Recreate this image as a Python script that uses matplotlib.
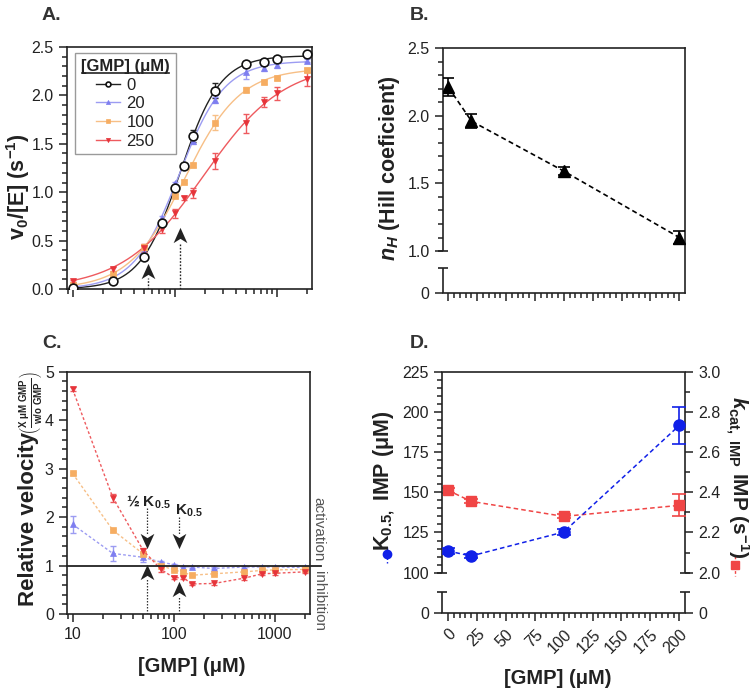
import numpy as np
import matplotlib
matplotlib.use('Agg')
import matplotlib.pyplot as plt
from matplotlib.path import Path
from matplotlib.lines import Line2D
from matplotlib.ticker import FixedLocator, NullFormatter, LogLocator

plt.rcParams['font.family'] = ['Liberation Sans', 'DejaVu Sans']
plt.rcParams['mathtext.fontset'] = 'custom'
plt.rcParams['mathtext.rm'] = 'Liberation Sans:bold'
plt.rcParams['mathtext.bf'] = 'Liberation Sans:bold'
plt.rcParams['mathtext.it'] = 'Liberation Sans:bold:italic'

# ---------------- data ----------------
imp = [10, 25, 50, 75, 100, 125, 150, 250, 500, 750, 1000, 2000]
gmp_labels = ['0', '20', '100', '250']

v_gmp0 = [0.01, 0.08, 0.33, 0.68, 1.04, 1.27, 1.58, 2.05, 2.32, 2.34, 2.38, 2.43]
v_gmp0_err = [0.01, 0.01, 0.02, 0.02, 0.02, 0.02, 0.06, 0.08, 0.02, 0.02, 0.02, 0.02]
v_gmp20 = [0.02, 0.11, 0.38, 0.73, 1.09, 1.27, 1.53, 1.95, 2.24, 2.28, 2.31, 2.36]
v_gmp20_err = [0.01, 0.01, 0.02, 0.02, 0.02, 0.02, 0.03, 0.03, 0.07, 0.03, 0.03, 0.02]
v_gmp100 = [0.04, 0.15, 0.43, 0.69, 0.96, 1.11, 1.28, 1.72, 2.06, 2.14, 2.18, 2.26]
v_gmp100_err = [0.01, 0.01, 0.03, 0.02, 0.02, 0.02, 0.02, 0.08, 0.03, 0.02, 0.02, 0.02]
v_gmp250 = [0.08, 0.21, 0.42, 0.62, 0.78, 0.94, 0.99, 1.32, 1.71, 1.93, 2.02, 2.17]
v_gmp250_err = [0.01, 0.02, 0.04, 0.04, 0.05, 0.02, 0.05, 0.08, 0.10, 0.05, 0.07, 0.07]

rel_gmp20 = [1.85, 1.25, 1.17, 1.07, 1.02, 0.98, 0.97, 0.94, 0.97, 0.97, 0.97, 0.96]
rel_gmp20_err = [0.17, 0.15, 0.10, 0.03, 0.02, 0.02, 0.02, 0.02, 0.02, 0.02, 0.02, 0.02]
rel_gmp100 = [2.90, 1.73, 1.24, 1.00, 0.91, 0.86, 0.80, 0.83, 0.87, 0.90, 0.91, 0.92]
rel_gmp100_err = [0.03, 0.03, 0.05, 0.02, 0.02, 0.02, 0.02, 0.02, 0.02, 0.02, 0.02, 0.02]
rel_gmp250 = [4.64, 2.40, 1.31, 0.92, 0.75, 0.75, 0.62, 0.63, 0.74, 0.83, 0.84, 0.87]
rel_gmp250_err = [0.04, 0.08, 0.06, 0.05, 0.03, 0.03, 0.03, 0.03, 0.03, 0.03, 0.03, 0.03]

gmp_conc = [0, 20, 100, 200]
n_hill = [2.21, 1.96, 1.59, 1.10]
n_hill_err = [0.065, 0.05, 0.03, 0.05]
k05 = [113.5, 110.4, 125.3, 191.6]
k05_err = [2.0, 1.5, 2.0, 11.4]
kcat = [2.41, 2.355, 2.28, 2.335]
kcat_err = [0.012, 0.01, 0.01, 0.055]

# ---------------- style ----------------
TXT = '#222222'
col_line = ['#222222', '#9c9cf2', '#f7bf86', '#ee5a5e']
col_mark = ['#111111', '#7e7ef0', '#f6ad62', '#e6343a']
markers = ['o', '^', 's', 'v']
YL = 15.5   # y-label size
XL = 14.5   # x-label size

fig = plt.figure(figsize=(7.5, 6.91), dpi=100)


def px_axes(l, t, r, b):
    return fig.add_axes([l / 750, 1 - b / 691, (r - l) / 750, (b - t) / 691])


def px_text(x, y, s, rot=0, **kw):
    return fig.text(x / 750, 1 - y / 691, s, rotation=rot, ha='center', va='center',
                    rotation_mode='anchor', **kw)


def style(ax):
    for s in ax.spines.values():
        s.set_linewidth(1.2)
        s.set_color(TXT)
    ax.tick_params(which='both', direction='out', color=TXT, width=1.1,
                   labelsize=11.5, labelcolor=TXT)
    ax.tick_params(which='major', length=6)
    ax.tick_params(which='minor', length=3.5)


def broken_scale(b, r):
    def fwd(y):
        y = np.asarray(y, dtype=float)
        return np.where(y >= b, y, b - (b - y) * r)

    def inv(s):
        s = np.asarray(s, dtype=float)
        return np.where(s >= b, s, b - (b - s) / r)
    return fwd, inv


def draw_break(ax, xa, brk, stub, top, cap=0.021):
    tr = ax.get_yaxis_transform()
    kw = dict(transform=tr, clip_on=False, color=TXT, lw=1.2, solid_capstyle='butt')
    ax.plot([xa, xa], [brk, top], **kw)
    ax.plot([xa, xa], [0, stub], **kw)
    ax.plot([xa - cap, xa + cap], [brk, brk], **kw)
    ax.plot([xa - cap, xa + cap], [stub, stub], **kw)


def stealth(direction):
    s = 1 if direction == 'up' else -1
    verts = [(0, 0.5 * s), (0.45, -0.5 * s), (0, -0.22 * s), (-0.45, -0.5 * s), (0, 0.5 * s)]
    codes = [Path.MOVETO, Path.LINETO, Path.LINETO, Path.LINETO, Path.CLOSEPOLY]
    return Path(verts, codes)


lab_kw = dict(fontweight='bold', color=TXT)

# ---------------- Panel A ----------------
axA = px_axes(67, 47, 312, 289)
style(axA)
axA.set_xscale('log')
axA.set_xlim(8.8, 2230)
axA.set_ylim(0, 2.5)
axA.set_yticks([0, 0.5, 1.0, 1.5, 2.0, 2.5])
axA.set_yticklabels(['0.0', '0.5', '1.0', '1.5', '2.0', '2.5'])
axA.yaxis.set_minor_locator(FixedLocator([v / 10 for v in range(1, 25) if v % 5 != 0]))
axA.set_xticks([10, 100, 1000])
axA.xaxis.set_minor_locator(LogLocator(base=10, subs=np.arange(2, 10)))
axA.xaxis.set_major_formatter(NullFormatter())
axA.xaxis.set_minor_formatter(NullFormatter())

vals = [v_gmp0, v_gmp20, v_gmp100, v_gmp250]
errs = [v_gmp0_err, v_gmp20_err, v_gmp100_err, v_gmp250_err]
xfit = np.logspace(1, np.log10(2000), 300)
handles = []
for i in range(4):
    n = n_hill[i]
    yfit = kcat[i] * xfit ** n / (k05[i] ** n + xfit ** n)
    axA.plot(xfit, yfit, color=col_line[i], lw=1.0, zorder=2)
    if i == 0:
        mk = dict(marker='o', ms=6.3, mfc='white', mec='#111111', mew=1.2)
    else:
        mk = dict(marker=markers[i], ms=4.5, mfc=col_mark[i], mec=col_mark[i], mew=0.5)
    axA.errorbar(imp, vals[i], yerr=errs[i], fmt='none', ecolor=col_line[i],
                 elinewidth=1.0, capsize=2.5, capthick=1.0, zorder=3)
    axA.plot(imp, vals[i], ls='none', zorder=4 + (1 if i == 0 else 0), **mk)
    hmk = dict(mk)
    hmk['ms'] = 3.5 if i == 0 else 3
    handles.append(Line2D([], [], color=col_line[i], lw=1.0, **hmk))

leg = axA.legend(handles, gmp_labels, title='[GMP] (μM)', loc='upper left',
                 bbox_to_anchor=(0.033, 0.975), borderaxespad=0, fontsize=12,
                 title_fontproperties={'weight': 'bold', 'size': 12},
                 handlelength=1.4, handletextpad=0.4, labelspacing=0.22,
                 frameon=True, fancybox=False, edgecolor='#9a9a9a', framealpha=1,
                 borderpad=0.35)
leg.get_frame().set_linewidth(1.0)
for t in leg.get_texts():
    t.set_color(TXT)
leg.get_title().set_color(TXT)

# arrows in A
arrow_x = [55, 112]
arrow_tip = [0.27, 0.65]
arrow_base = [0.11, 0.47]
for xa, yt, yb in zip(arrow_x, arrow_tip, arrow_base):
    axA.plot([xa, xa], [0, yb], ls=(0, (1.2, 1.2)), color=TXT, lw=1.0, zorder=6)
    axA.plot([xa], [(yt + yb) / 2], marker=stealth('up'), ms=11, color=TXT, mew=0, zorder=7)

px_text(18.5, 187, r'v$_0$/[E] (s$^{-1}$)', rot=90, fontsize=15.5, **lab_kw)

# ---------------- Panel B ----------------
axB = px_axes(442.7, 48, 685, 293)
style(axB)
fB, iB = broken_scale(1.0, 0.31)
axB.set_yscale('function', functions=(fB, iB))
axB.set_ylim(0, 2.5)
axB.set_xlim(-4.9, 204.9)
axB.set_yticks([0, 1.0, 1.5, 2.0, 2.5])
axB.set_yticklabels(['0', '1.0', '1.5', '2.0', '2.5'])
axB.yaxis.set_minor_locator(FixedLocator([v / 10 for v in range(11, 25) if v % 5 != 0]))
axB.set_xticks(range(0, 201, 25))
axB.xaxis.set_minor_locator(FixedLocator([v for v in range(0, 201, 5) if v % 25 != 0]))
axB.xaxis.set_major_formatter(NullFormatter())
axB.spines['left'].set_visible(False)
draw_break(axB, 0, 1.0, 0.6, 2.5)
axB.errorbar(gmp_conc, n_hill, yerr=n_hill_err, fmt='^', color='black', ms=8,
             capsize=4, elinewidth=1.2, capthick=1.2, ls=(0, (3, 2)), lw=1.2, zorder=4)
px_text(390, 168, r'$n_H$ (Hill coeficient)', rot=90, fontsize=YL, **lab_kw)

# ---------------- Panel C ----------------
axC = px_axes(67, 371.7, 310, 614)
style(axC)
axC.set_xscale('log')
axC.set_xlim(8.8, 2230)
axC.set_ylim(0, 5)
axC.set_yticks([0, 1, 2, 3, 4, 5])
axC.yaxis.set_minor_locator(FixedLocator([v / 5 for v in range(1, 25) if v % 5 != 0]))
axC.set_xticks([10, 100, 1000])
axC.set_xticklabels(['10', '100', '1000'])
axC.xaxis.set_minor_locator(LogLocator(base=10, subs=np.arange(2, 10)))
axC.xaxis.set_minor_formatter(NullFormatter())

rels = [rel_gmp20, rel_gmp100, rel_gmp250]
rel_errs = [rel_gmp20_err, rel_gmp100_err, rel_gmp250_err]
for j in range(3):
    i = j + 1
    axC.errorbar(imp, rels[j], yerr=rel_errs[j], fmt='none', ecolor=col_line[i],
                 elinewidth=1.0, capsize=2.5, capthick=1.0, zorder=3)
    axC.plot(imp, rels[j], ls=(0, (2, 1.6)), lw=1.0, color=col_line[i],
             marker=markers[i], ms=4.5, mfc=col_mark[i], mec=col_mark[i], mew=0.5, zorder=4)

axC.plot([0, 1.045], [1, 1], transform=axC.get_yaxis_transform(), clip_on=False,
         color=TXT, lw=1.3, zorder=5)
tblend = axC.get_yaxis_transform()
axC.text(1.035, 1.76, 'activation', transform=tblend, rotation=-90, ha='center',
         va='center', fontsize=11, color='#555555')
axC.text(1.035, 0.27, 'inhibition', transform=tblend, rotation=-90, ha='center',
         va='center', fontsize=11, color='#555555')

# annotations in C
k_half_x, k_x = 55, 112
axC.text(33.5, 2.31, '½ K$_{0.5}$', fontsize=11, fontweight='bold', color=TXT, va='center')
axC.text(104, 2.12, 'K$_{0.5}$', fontsize=11, fontweight='bold', color=TXT, va='center')
dot = dict(ls=(0, (1.2, 1.2)), color='#333333', lw=0.9, zorder=6)
axC.plot([k_half_x, k_half_x], [2.19, 1.62], **dot)
axC.plot([k_x, k_x], [2.0, 1.62], **dot)
axC.plot([k_half_x, k_half_x], [0, 0.72], **dot)
axC.plot([k_x, k_x], [0, 0.38], **dot)
for xa, yc in [(k_half_x, 1.51), (k_x, 1.51)]:
    axC.plot([xa], [yc], marker=stealth('down'), ms=11, color=TXT, mew=0, zorder=7)
for xa, yc in [(k_half_x, 0.86), (k_x, 0.52)]:
    axC.plot([xa], [yc], marker=stealth('up'), ms=11, color=TXT, mew=0, zorder=7)

px_text(29, 518.5, 'Relative velocity', rot=90, fontsize=YL + 0.5, **lab_kw)
px_text(30, 403.5, r'$\left(\frac{\mathrm{X\ μM\ GMP}}{\mathrm{w/o\ GMP}}\right)$', rot=90,
        fontsize=10, color=TXT)
px_text(192, 666.5, '[GMP] (μM)', fontsize=XL, **lab_kw)

# ---------------- Panel D ----------------
axD = px_axes(442.3, 371.7, 685, 613.3)
style(axD)
fD, iD = broken_scale(100.0, 0.2525)
axD.set_yscale('function', functions=(fD, iD))
axD.set_ylim(0, 225)
axD.set_xlim(-4.9, 204.9)
axD.set_yticks([0, 100, 125, 150, 175, 200, 225])
axD.yaxis.set_minor_locator(FixedLocator([v for v in range(105, 225, 5) if v % 25 != 0]))
axD.set_xticks(range(0, 201, 25))
axD.set_xticklabels([str(v) for v in range(0, 201, 25)], rotation=45, ha='right',
                    rotation_mode='anchor')
axD.xaxis.set_minor_locator(FixedLocator([v for v in range(0, 201, 5) if v % 25 != 0]))
axD.spines['left'].set_visible(False)
axD.spines['right'].set_visible(False)
draw_break(axD, 0, 100, 53.3, 225)

axD2 = axD.twinx()
style(axD2)
fD2, iD2 = broken_scale(2.0, 0.101)
axD2.set_yscale('function', functions=(fD2, iD2))
axD2.set_ylim(0, 3.0)
axD2.set_yticks([0, 2.0, 2.2, 2.4, 2.6, 2.8, 3.0])
axD2.set_yticklabels(['0', '2.0', '2.2', '2.4', '2.6', '2.8', '3.0'])
axD2.yaxis.set_minor_locator(FixedLocator([2.1, 2.3, 2.5, 2.7, 2.9]))
for s in ['left', 'right', 'top', 'bottom']:
    axD2.spines[s].set_visible(False)
draw_break(axD2, 1, 2.0, 1.064, 3.0)

blue_d, red_d = '#1020e8', '#f04545'
axD2.errorbar(gmp_conc, kcat, yerr=kcat_err, fmt='s', color=red_d, ms=7.5,
              capsize=5, elinewidth=1.2, capthick=1.2, ls=(0, (3, 2)), lw=1.1, zorder=3)
axD.set_zorder(axD2.get_zorder() + 1)
axD.patch.set_visible(False)
axD.errorbar(gmp_conc, k05, yerr=k05_err, fmt='o', color=blue_d, ms=8,
             capsize=5, elinewidth=1.2, capthick=1.2, ls=(0, (3, 2)), lw=1.1, zorder=4)

px_text(557.5, 678, '[GMP] (μM)', fontsize=XL, **lab_kw)
px_text(384, 481, r'K$_{0.5,}$ IMP (μM)', rot=90, fontsize=YL, **lab_kw)
px_text(737, 477, r'$k_{\mathrm{cat,\ IMP}}$ IMP (s$^{-1}$)', rot=-90, fontsize=YL - 0.5,
        **lab_kw)

# legend icons beside D axis labels
fig.add_artist(Line2D([387 / 750, 387 / 750], [1 - 547 / 691, 1 - 563 / 691],
                      transform=fig.transFigure, color=blue_d, lw=1.0, ls=(0, (2, 1.5))))
fig.add_artist(Line2D([387 / 750], [1 - 554 / 691], transform=fig.transFigure,
                      marker='o', ms=6, color=blue_d, ls='none'))
fig.add_artist(Line2D([735 / 750, 735 / 750], [1 - 556 / 691, 1 - 576 / 691],
                      transform=fig.transFigure, color=red_d, lw=1.0, ls=(0, (2, 1.5))))
fig.add_artist(Line2D([735 / 750], [1 - 565 / 691], transform=fig.transFigure,
                      marker='s', ms=6, color=red_d, ls='none'))

# panel letters
for lab, x, y in [('A.', 42, 20), ('B.', 410, 20), ('C.', 42, 348), ('D.', 410, 348)]:
    fig.text(x / 750, 1 - y / 691, lab, fontsize=14, fontweight='bold', color='#333333',
             va='baseline', ha='left')

# underline legend title
fig.canvas.draw()
bb = leg.get_title().get_window_extent()
p0 = fig.transFigure.inverted().transform((bb.x0 + 1, bb.y0 + 1))
p1 = fig.transFigure.inverted().transform((bb.x1 - 1, bb.y0 + 1))
fig.add_artist(Line2D([p0[0], p1[0]], [p0[1], p1[1]], transform=fig.transFigure,
                      color=TXT, lw=1.2))

fig.savefig('out.png', dpi=100)
